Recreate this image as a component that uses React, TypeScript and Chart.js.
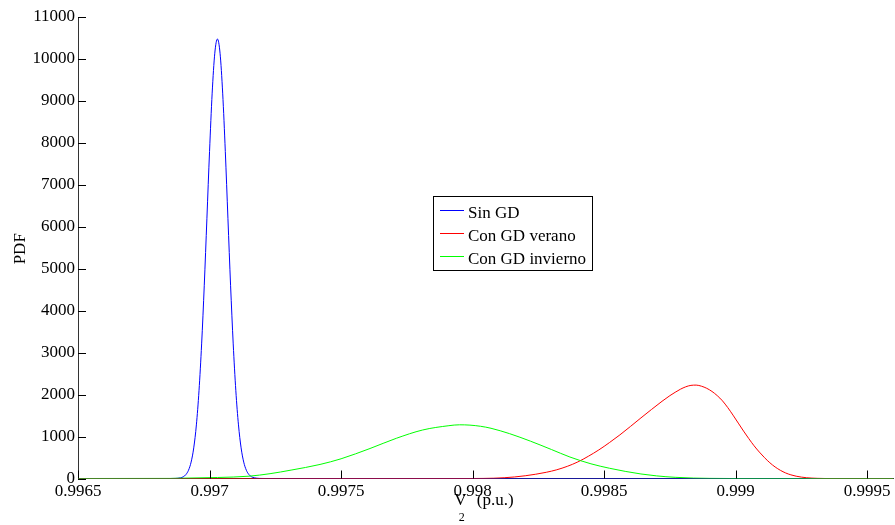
import React, { useEffect, useRef } from 'react';
import { Chart, registerables } from 'chart.js';

Chart.register(...registerables);

// ---- Axis ticks ----
const xTicks = [0.9965, 0.997, 0.9975, 0.998, 0.9985, 0.999, 0.9995];
const xTickLabels = ['0.9965', '0.997', '0.9975', '0.998', '0.9985', '0.999', '0.9995'];
const yTicks = [0, 1000, 2000, 3000, 4000, 5000, 6000, 7000, 8000, 9000, 10000, 11000];
const yTickLabels = ['0', '1000', '2000', '3000', '4000', '5000', '6000', '7000', '8000', '9000', '10000', '11000'];

// ---- Series ----
const seriesNames = ['Sin GD', 'Con GD verano', 'Con GD invierno'];
const seriesColors = ['#0000ff', '#ff0000', '#00ff00'];

const sinGdX = [0.9965, 0.99685, 0.99687, 0.99689, 0.9969, 0.99691, 0.99692, 0.99693, 0.99694, 0.99695, 0.99696, 0.99697, 0.99698, 0.99699, 0.997, 0.99701, 0.99702, 0.99703, 0.99704, 0.99705, 0.99706, 0.99707, 0.99708, 0.99709, 0.9971, 0.99711, 0.99712, 0.99713, 0.99714, 0.99715, 0.99716, 0.99717, 0.99719, 0.99721, 0.9996];
const sinGdY = [0, 0, 2, 17, 40, 92, 196, 391, 730, 1278, 2092, 3208, 4606, 6191, 7791, 9185, 10137, 10475, 10137, 9185, 7791, 6191, 4606, 3208, 2092, 1278, 730, 391, 196, 92, 40, 17, 2, 0, 0];

const veranoX = [0.9965, 0.998, 0.99804, 0.99808, 0.99812, 0.99816, 0.9982, 0.99824, 0.99828, 0.99832, 0.99836, 0.9984, 0.99844, 0.99848, 0.99852, 0.99856, 0.9986, 0.99864, 0.99868, 0.99872, 0.99875, 0.99877, 0.99879, 0.99881, 0.99883, 0.99885, 0.99887, 0.99889, 0.99891, 0.99893, 0.99895, 0.99897, 0.99899, 0.99901, 0.99903, 0.99905, 0.99907, 0.99909, 0.99911, 0.99913, 0.99915, 0.99917, 0.99919, 0.99921, 0.99923, 0.99925, 0.99927, 0.99929, 0.99931, 0.99934, 0.9996];
const veranoY = [0, 0, 2, 7, 18, 37, 65, 102, 148, 208, 290, 395, 530, 682, 855, 1040, 1240, 1445, 1645, 1840, 1975, 2055, 2128, 2185, 2220, 2226, 2200, 2150, 2075, 1975, 1850, 1690, 1510, 1320, 1130, 950, 780, 630, 495, 375, 275, 195, 132, 87, 55, 33, 18, 9, 4, 0, 0];

const inviernoX = [0.9965, 0.99685, 0.9969, 0.99703, 0.99715, 0.99723, 0.99731, 0.99742, 0.9975, 0.99761, 0.99771, 0.99781, 0.99791, 0.99795, 0.99799, 0.99803, 0.99807, 0.99814, 0.99822, 0.9983, 0.99837, 0.99845, 0.99852, 0.99858, 0.99864, 0.9987, 0.99877, 0.99884, 0.9989, 0.99898, 0.9996];
const inviernoY = [0, 2, 8, 24, 55, 115, 200, 335, 470, 715, 958, 1156, 1259, 1280, 1272, 1245, 1197, 1070, 890, 690, 512, 350, 245, 170, 108, 62, 28, 10, 3, 0, 0];

const xTitleMain = 'V';
const xTitleSub = '2';
const xTitleRest = '(p.u.)';
const yTitle = 'PDF';

const FONT = "'Liberation Serif', 'Times New Roman', serif";

const toPoints = (xs: number[], ys: number[]) => xs.map((x, i) => ({ x, y: ys[i] }));

const decorPlugin = {
  id: 'decor',
  afterDraw(chart: any) {
    const ctx: CanvasRenderingContext2D = chart.ctx;
    const { left, top, bottom } = chart.chartArea;
    const xs = chart.scales.x;
    const ys = chart.scales.y;
    ctx.save();
    // inward tick marks
    ctx.strokeStyle = '#000';
    ctx.lineWidth = 1;
    ctx.beginPath();
    xTicks.forEach((v) => {
      const px = Math.round(xs.getPixelForValue(v)) + 0.5;
      ctx.moveTo(px, bottom);
      ctx.lineTo(px, bottom - 8);
    });
    yTicks.forEach((v) => {
      const py = Math.round(ys.getPixelForValue(v)) + 0.5;
      ctx.moveTo(left, py);
      ctx.lineTo(left + 8, py);
    });
    ctx.stroke();

    // legend box
    const bx = 433.5, by = 196.5, bw = 159, bh = 74;
    ctx.fillStyle = '#fff';
    ctx.fillRect(bx, by, bw, bh);
    ctx.strokeStyle = '#000';
    ctx.strokeRect(bx, by, bw, bh);
    const rowY = [210.5, 233.5, 256.5];
    ctx.font = `17px ${FONT}`;
    ctx.textAlign = 'left';
    ctx.textBaseline = 'alphabetic';
    seriesNames.forEach((name, i) => {
      ctx.strokeStyle = seriesColors[i];
      ctx.beginPath();
      ctx.moveTo(440, rowY[i]);
      ctx.lineTo(464, rowY[i]);
      ctx.stroke();
      ctx.fillStyle = '#000';
      ctx.fillText(name, 468, rowY[i] + 7);
    });

    // x title with subscript
    const cx = (xs.left + xs.right) / 2;
    ctx.fillStyle = '#000';
    ctx.font = `17px ${FONT}`;
    ctx.fillText(xTitleMain, cx - 31.5, 505);
    ctx.fillText(xTitleRest, cx - 9, 505);
    ctx.font = `12px ${FONT}`;
    ctx.fillText(xTitleSub, cx - 27, 521);

    // y title
    ctx.font = `17px ${FONT}`;
    ctx.translate(25, (top + bottom) / 2 + 1);
    ctx.rotate(-Math.PI / 2);
    ctx.textAlign = 'center';
    ctx.fillText(yTitle, 0, 0);
    ctx.restore();
  },
};

export default function App() {
  const canvasRef = useRef<HTMLCanvasElement | null>(null);

  useEffect(() => {
    if (!canvasRef.current) return;
    const allX = [sinGdX, veranoX, inviernoX];
    const allY = [sinGdY, veranoY, inviernoY];
    const chart = new Chart(canvasRef.current, {
      type: 'line',
      data: {
        datasets: seriesNames.map((name, i) => ({
          label: name,
          data: toPoints(allX[i], allY[i]),
          borderColor: seriesColors[i],
          backgroundColor: seriesColors[i],
          borderWidth: 1,
          pointRadius: 0,
          fill: false,
          cubicInterpolationMode: 'monotone' as const,
          order: 3 - i,
        })),
      },
      options: {
        responsive: false,
        animation: false,
        events: [],
        layout: { padding: { top: 17, right: 1.5, left: 0, bottom: 0 } },
        plugins: {
          legend: { display: false },
          tooltip: { enabled: false },
          title: { display: false },
        },
        scales: {
          x: {
            type: 'linear',
            min: 0.9965,
            max: 0.9996,
            afterFit: (s: any) => {
              s.height = 46.5;
            },
            afterBuildTicks: (s: any) => {
              s.ticks = xTicks.map((v) => ({ value: v }));
            },
            ticks: {
              callback: (_v: any, i: number) => xTickLabels[i],
              font: { family: FONT, size: 17 },
              color: '#000',
              padding: 3,
              maxRotation: 0,
              autoSkip: false,
            },
            grid: { display: false, drawTicks: false },
            border: { display: true, color: '#333', width: 1 },
          },
          y: {
            type: 'linear',
            min: 0,
            max: 11000,
            afterFit: (s: any) => {
              s.width = 78;
            },
            afterBuildTicks: (s: any) => {
              s.ticks = yTicks.map((v) => ({ value: v }));
            },
            ticks: {
              callback: (_v: any, i: number) => yTickLabels[i],
              font: { family: FONT, size: 17 },
              color: '#000',
              padding: 3,
              autoSkip: false,
            },
            grid: { display: false, drawTicks: false },
            border: { display: true, color: '#333', width: 1 },
          },
        },
      },
      plugins: [decorPlugin],
    });
    return () => chart.destroy();
  }, []);

  return (
    <div style={{ position: 'absolute', left: 0, top: 0, width: 895, height: 525, background: '#fff' }}>
      <canvas ref={canvasRef} width={895} height={525} style={{ display: 'block' }} />
    </div>
  );
}
